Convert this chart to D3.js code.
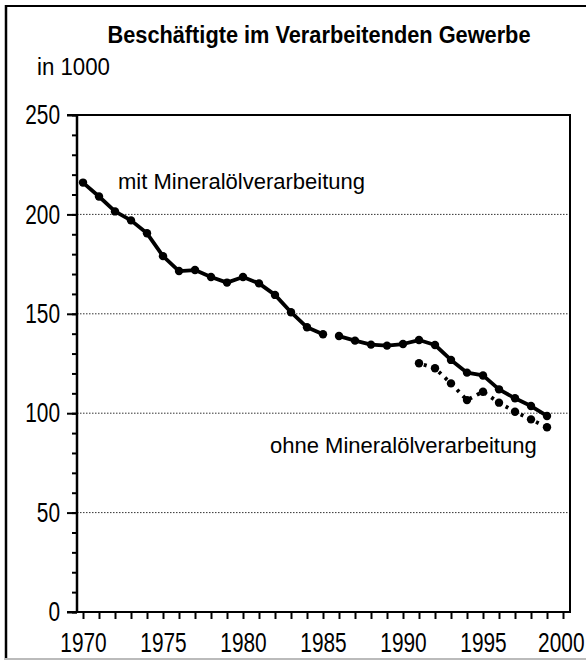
<!DOCTYPE html>
<html lang="de">
<head>
  <meta charset="UTF-8">
  <title>Beschäftigte im Verarbeitenden Gewerbe</title>
  <script src="https://d3js.org/d3.v7.min.js"></script>
  <style>
    body {
      margin: 0;
      padding: 0;
      background-color: #fff;
    }
    svg {
      display: block;
      font-family: "Liberation Sans", Arial, Helvetica, sans-serif;
    }
    .tick-label {
      font-family: "Liberation Sans", Arial, sans-serif;
      font-size: 27px;
    }
    .grid-line {
      stroke: #333;
      stroke-width: 1;
      stroke-dasharray: 1.5,1.5;
    }
  </style>
</head>
<body>
  <svg id="chart" width="586" height="663"></svg>

  <script>
    // mit Mineralölverarbeitung, 1970-1985 (Bruch nach 1985)
    const mitYears1 = [1970, 1971, 1972, 1973, 1974, 1975, 1976, 1977, 1978, 1979, 1980, 1981, 1982, 1983, 1984, 1985];
    const mitValues1 = [216, 209, 201.5, 197, 190.5, 179, 171.5, 172, 168.5, 165.7, 168.5, 165.3, 159.5, 150.8, 143.2, 139.7];

    // mit Mineralölverarbeitung, 1986-1999
    const mitYears2 = [1986, 1987, 1988, 1989, 1990, 1991, 1992, 1993, 1994, 1995, 1996, 1997, 1998, 1999];
    const mitValues2 = [138.8, 136.5, 134.5, 134, 134.8, 136.8, 134.3, 126.8, 120.4, 119, 112, 107.5, 103.6, 98.6];

    // ohne Mineralölverarbeitung
    const ohneYears = [1991, 1992, 1993, 1994, 1995, 1996, 1997, 1998, 1999];
    const ohneValues = [125.1, 122.6, 115, 106.6, 110.8, 105.3, 100.7, 96.9, 92.9];

    const yMajorTicks = [0, 50, 100, 150, 200, 250];
    const yGridTicks = [50, 100, 150, 200];
    const xLabelTicks = [1970, 1975, 1980, 1985, 1990, 1995, 2000];

    const svg = d3.select("#chart");

    const plot = { left: 77, right: 570, top: 115, bottom: 612 };

    const x = d3.scaleLinear().domain([1970, 2000]).range([83, 563]);
    const y = d3.scaleLinear().domain([0, 250]).range([plot.bottom, plot.top]);

    // schmale Schrift nachbilden: ca. 11.6px je Ziffer
    function narrow(sel) {
      sel.attr("class", "tick-label")
        .attr("font-size", null)
        .attr("font-family", null)
        .attr("fill", "#000")
        .attr("lengthAdjust", "spacingAndGlyphs")
        .attr("textLength", function() { return this.textContent.length * 11.6; });
    }

    // Rahmen
    svg.append("line")
      .attr("x1", 6).attr("x2", 6).attr("y1", 5).attr("y2", 660)
      .attr("stroke", "#000").attr("stroke-width", 2.5);
    svg.append("line")
      .attr("x1", 5).attr("x2", 586).attr("y1", 6).attr("y2", 6)
      .attr("stroke", "#000").attr("stroke-width", 2);
    svg.append("line")
      .attr("x1", 5).attr("x2", 586).attr("y1", 659).attr("y2", 659)
      .attr("stroke", "#bbb").attr("stroke-width", 2);

    // Titel
    svg.append("text")
      .attr("x", 319).attr("y", 43)
      .attr("text-anchor", "middle")
      .attr("font-size", 23.5)
      .attr("font-weight", "bold")
      .attr("lengthAdjust", "spacingAndGlyphs")
      .attr("textLength", 423)
      .text("Beschäftigte im Verarbeitenden Gewerbe");

    svg.append("text")
      .attr("x", 37).attr("y", 75)
      .attr("font-size", 23)
      .attr("lengthAdjust", "spacingAndGlyphs")
      .attr("textLength", 73)
      .text("in 1000");

    // Gitterlinien
    svg.selectAll(".grid-line")
      .data(yGridTicks)
      .enter().append("line")
      .attr("class", "grid-line")
      .attr("x1", plot.left).attr("x2", plot.right)
      .attr("y1", d => y(d)).attr("y2", d => y(d));

    // kleine Striche links
    svg.append("g")
      .attr("transform", `translate(${plot.left},0)`)
      .call(d3.axisLeft(y).tickValues(d3.range(0, 251, 10)).tickSize(5).tickSizeOuter(0).tickFormat(""))
      .call(g => g.select(".domain").remove())
      .selectAll("line").attr("stroke-width", 2);

    // y-Achse
    const yAxis = svg.append("g")
      .attr("transform", `translate(${plot.left},0)`)
      .call(d3.axisLeft(y).tickValues(yMajorTicks).tickSize(10).tickPadding(7).tickSizeOuter(0));
    yAxis.select(".domain").remove();
    yAxis.selectAll("line").attr("stroke-width", 2);
    yAxis.selectAll("text").call(narrow);

    // x-Achse
    const xAxis = svg.append("g")
      .attr("transform", `translate(0,${plot.bottom})`)
      .call(d3.axisBottom(x).tickValues(d3.range(1970, 2001)).tickSize(7).tickPadding(14)
        .tickFormat(d => xLabelTicks.includes(d) ? d : ""));
    xAxis.select(".domain").remove();
    xAxis.selectAll("line").attr("stroke-width", 2);
    xAxis.selectAll("text").call(narrow);
    // letzte Beschriftung rechtsbündig am Bildrand halten
    xAxis.selectAll("text").filter(d => d === 2000)
      .attr("text-anchor", "end")
      .attr("x", 21);

    // Diagrammrahmen
    svg.append("path")
      .attr("d", `M${plot.left - 10},${plot.top}H${plot.right}V${plot.bottom}H${plot.left - 10}`)
      .attr("fill", "none").attr("stroke", "#000").attr("stroke-width", 2);
    svg.append("line")
      .attr("x1", plot.left).attr("x2", plot.left).attr("y1", plot.top).attr("y2", plot.bottom + 1)
      .attr("stroke", "#000").attr("stroke-width", 2.5);

    const toPoints = (years, values) => years.map((yr, i) => ({ year: yr, value: values[i] }));
    const mit1 = toPoints(mitYears1, mitValues1);
    const mit2 = toPoints(mitYears2, mitValues2);
    const ohne = toPoints(ohneYears, ohneValues);

    const line = d3.line()
      .x(d => x(d.year))
      .y(d => y(d.value));

    // Linien
    [mit1, mit2].forEach(seg => {
      svg.append("path")
        .datum(seg)
        .attr("d", line)
        .attr("fill", "none")
        .attr("stroke", "#000")
        .attr("stroke-width", 3.8)
        .attr("stroke-linejoin", "round");
    });

    svg.append("path")
      .datum(ohne)
      .attr("d", line)
      .attr("fill", "none")
      .attr("stroke", "#000")
      .attr("stroke-width", 3.8)
      .attr("stroke-dasharray", "3,5.5")
      .attr("stroke-dashoffset", -5);

    // Punkte
    svg.selectAll(".dot")
      .data(mit1.concat(mit2, ohne))
      .enter().append("circle")
      .attr("class", "dot")
      .attr("cx", d => x(d.year))
      .attr("cy", d => y(d.value))
      .attr("r", 4.2)
      .attr("fill", "#000");

    // Beschriftungen
    svg.append("text")
      .attr("x", 118).attr("y", 189)
      .attr("font-size", 22)
      .text("mit Mineralölverarbeitung");

    svg.append("text")
      .attr("x", 270).attr("y", 453)
      .attr("font-size", 22)
      .text("ohne Mineralölverarbeitung");
  </script>
</body>
</html>
